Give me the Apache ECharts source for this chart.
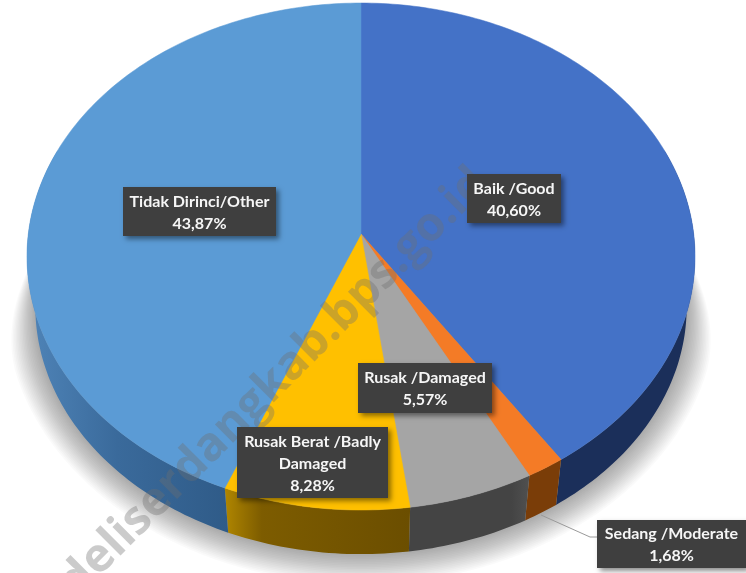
<!DOCTYPE html>
<html><head><meta charset="utf-8">
<style>html,body{margin:0;padding:0;background:#fff}#c{width:746px;height:573px}</style>
<script src="https://cdn.jsdelivr.net/npm/echarts@6/dist/echarts.min.js"></script>
</head><body><div id="c"></div>
<script>
const categories = ['Baik /Good','Sedang /Moderate','Rusak /Damaged','Rusak Berat /Badly\nDamaged','Tidak Dirinci/Other'];
const shares = [40.60,1.68,5.57,8.28,43.87];
const watermarkText = 'deliserdangkab.bps.go.id';

const topColors = ['#4472c7','#f47b26','#a5a5a5','#ffc000','#5b9bd5'];
const wallColors = [
  [[0,'#1b2f5a'],[1,'#1b2f5a']],
  [[0,'#7a3d08'],[1,'#7a3d08']],
  [[0,'#444444'],[0.85,'#444444'],[1,'#505050']],
  [[0,'#b08600'],[0.2,'#7d5c00'],[1,'#6b4e00']],
  [[0,'#4f84b8'],[0.45,'#3a6a9b'],[1,'#2f5b88']]
];
const labelBoxes = [
  [467,174,94,49],[597,520,149,48],[358,363,134,50],[237,427,151,71],[123,187,153,49]
];
const G = {cx:361, cy:234, A:332.7, B:251.5, k:0.0888, depth:51, lowScale:0.975};
const shadowSteps = 18, shadowReach = 30;

function rim(deg, low){
  const t = deg*Math.PI/180, X = Math.sin(t), Y = -Math.cos(t), d = 1-G.k*Y;
  const s = low ? G.lowScale : 1;
  return [G.cx + s*G.A*X/d, G.cy + (low?G.depth:0) + s*G.B*Y/d];
}
function arc(a0,a1,low){
  const pts=[], n=Math.max(2,Math.ceil(Math.abs(a1-a0)));
  for(let i=0;i<=n;i++) pts.push(rim(a0+(a1-a0)*i/n,low));
  return pts;
}
function shadowRing(dr){
  const pts=[];
  for(let a=70;a<=290;a+=2){
    const q=rim(a,true), dx=q[0]-G.cx, dy=q[1]-G.cy-G.depth, r=Math.hypot(dx,dy);
    const e=Math.min(1,(110-Math.abs(a-180))/40), w=e*e*(3-2*e);
    pts.push([q[0]+dx/r*dr*w, q[1]+dy/r*dr*w]);
  }
  return pts;
}
const total = shares.reduce((a,b)=>a+b,0);
function span(i){
  let s=0; for(let j=0;j<i;j++) s+=shares[j];
  return [s/total*360,(s+shares[i])/total*360];
}
const rows = shares.map((v,i)=>[v,i]);
const shadowRows = Array.from({length:shadowSteps},(_, i)=>[shadowSteps-i]);

const option = {
  animation:false,
  backgroundColor:'#fff',
  series:[
    {type:'custom',coordinateSystem:'none',silent:true,data:shadowRows,
     renderItem(params,api){
       const dr=api.value(0)/shadowSteps*shadowReach;
       return {type:'polygon',shape:{points:shadowRing(dr)},style:{fill:'rgba(0,0,0,0.02)'}};
     }},
    {type:'custom',coordinateSystem:'none',silent:true,data:rows,
     renderItem(params,api){
       const i=api.value(1), [a,b]=span(i);
       const a0=Math.max(a,70), a1=Math.min(b,290);
       if(a1<=a0) return {type:'group',children:[]};
       const up=arc(a0,a1,false), lo=arc(a1,a0,true);
       const xs=up.concat(lo).map(q=>q[0]);
       const x0=Math.min(...xs), x1=Math.max(...xs);
       const stops=wallColors[i].map(s=>({offset:s[0],color:s[1]}));
       return {type:'polygon',shape:{points:up.concat(lo)},
         style:{fill:{type:'linear',x:x0,y:0,x2:x1,y2:0,global:true,colorStops:stops}}};
     }},
    {type:'custom',coordinateSystem:'none',silent:true,data:rows,
     renderItem(params,api){
       const i=api.value(1), [a,b]=span(i);
       return {type:'polygon',shape:{points:[[G.cx,G.cy]].concat(arc(a,b,false))},
         style:{fill:topColors[i],stroke:topColors[i],lineWidth:0.5}};
     }},
    {type:'custom',coordinateSystem:'none',silent:true,data:[[0]],
     renderItem(){
       return {type:'text',x:481,y:176,rotation:Math.PI/4,
         style:{text:watermarkText,x:0,y:0,align:'right',verticalAlign:'middle',
           font:'bold 47px "Open Sans"',fill:'rgba(110,110,110,0.36)'}};
     }},
    {type:'custom',coordinateSystem:'none',silent:true,data:[[0]],
     renderItem(){
       return {type:'polyline',shape:{points:[[541,515],[590,537],[597,537]]},
         style:{stroke:'#9a9a9a',lineWidth:1,fill:null}};
     }},
    {type:'custom',coordinateSystem:'none',silent:true,data:rows,
     renderItem(params,api){
       const i=api.value(1), v=api.value(0), b=labelBoxes[i];
       return {type:'group',children:[
         {type:'rect',shape:{x:b[0],y:b[1],width:b[2],height:b[3]},
          style:{fill:'#3f3f3f',shadowBlur:5,shadowOffsetX:3,shadowOffsetY:3,shadowColor:'rgba(0,0,0,0.45)'}},
         {type:'text',style:{text:categories[i]+'\n'+v.toFixed(2).replace('.',',')+'%',
           x:b[0]+b[2]/2,y:b[1]+b[3]/2+1,align:'center',verticalAlign:'middle',
           font:'bold 16px Lato',lineHeight:22,fill:'#f6f6f6'},z2:5}
       ]};
     }}
  ]
};
echarts.init(document.getElementById('c'),null,{renderer:'canvas'}).setOption(option);
</script></body></html>
